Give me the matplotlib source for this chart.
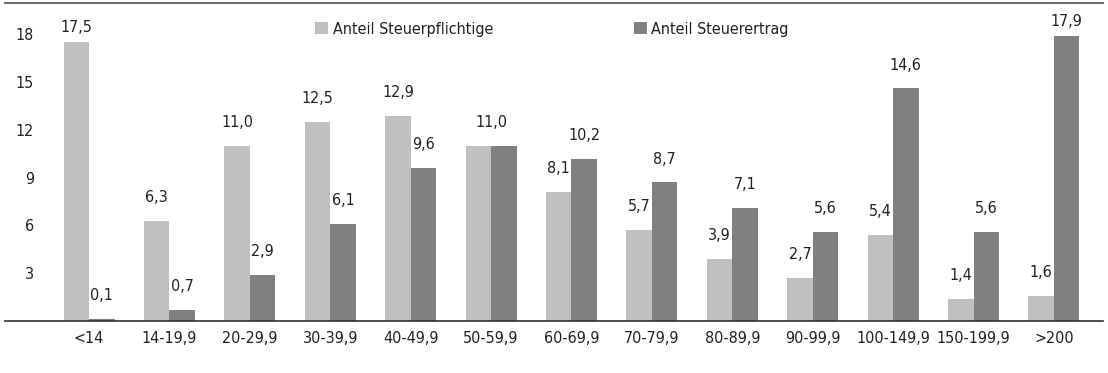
import matplotlib
matplotlib.use("Agg")
import matplotlib.pyplot as plt
import numpy as np

plt.rcParams['font.family'] = ['DejaVu Sans']
plt.rcParams['font.stretch'] = 'condensed'

categories = ['<14', '14-19,9', '20-29,9', '30-39,9', '40-49,9', '50-59,9', '60-69,9',
              '70-79,9', '80-89,9', '90-99,9', '100-149,9', '150-199,9', '>200']
steuerpflichtige = [17.5, 6.3, 11.0, 12.5, 12.9, 11.0, 8.1, 5.7, 3.9, 2.7, 5.4, 1.4, 1.6]
steuerertrag = [0.1, 0.7, 2.9, 6.1, 9.6, 11.0, 10.2, 8.7, 7.1, 5.6, 14.6, 5.6, 17.9]
yticks = [3, 6, 9, 12, 15, 18]

light = '#c0c0c0'
dark = '#808080'

fig = plt.figure(figsize=(11.08, 3.73), dpi=100)
ax = fig.add_axes([5 / 1108, 52 / 373, 1098 / 1108, 318.5 / 373])

x = np.arange(len(categories))
w = 0.317
ax.bar(x - w / 2, steuerpflichtige, w, color=light, label='Anteil Steuerpflichtige')
ax.bar(x + w / 2, steuerertrag, w, color=dark, label='Anteil Steuerertrag')


def label_pos(v):
    return v + 1.0 if v + 1.0 < 18 else v + 0.45


def fmt(v):
    return f'{v:.1f}'.replace('.', ',')


for i in range(len(categories)):
    a, b = steuerpflichtige[i], steuerertrag[i]
    if a == b:
        ax.text(x[i], label_pos(a), fmt(a), ha='center', va='bottom', fontsize=11.5, color='#222222')
        continue
    ax.text(x[i] - w / 2, label_pos(a), fmt(a), ha='center', va='bottom', fontsize=11.5, color='#222222')
    ax.text(x[i] + w / 2, label_pos(b), fmt(b), ha='center', va='bottom', fontsize=11.5, color='#222222')

ax.set_xlim(-1.045, 12.61)
ax.set_ylim(0, 20)
ax.set_yticks(yticks)
ax.set_yticklabels([str(t) for t in yticks])
ax.set_xticks(x)
ax.set_xticklabels(categories)
ax.tick_params(axis='y', length=0, pad=-21, labelsize=11.5, labelcolor='#222222')
ax.tick_params(axis='x', length=0, pad=7, labelsize=11.5, labelcolor='#222222')

for s in ['left', 'right']:
    ax.spines[s].set_visible(False)
ax.spines['top'].set_color('#707070')
ax.spines['top'].set_linewidth(1.5)
ax.spines['bottom'].set_color('#303030')
ax.spines['bottom'].set_linewidth(1.2)
ax.spines['bottom'].set_zorder(3)

ax.legend(loc='upper left', bbox_to_anchor=(296 / 1098, 0.985), ncol=2, frameon=False,
          fontsize=11.5, handlelength=0.8, handleheight=0.8, handletextpad=0.3,
          columnspacing=8.8, labelcolor='#222222')

fig.savefig('out.png', dpi=100)
